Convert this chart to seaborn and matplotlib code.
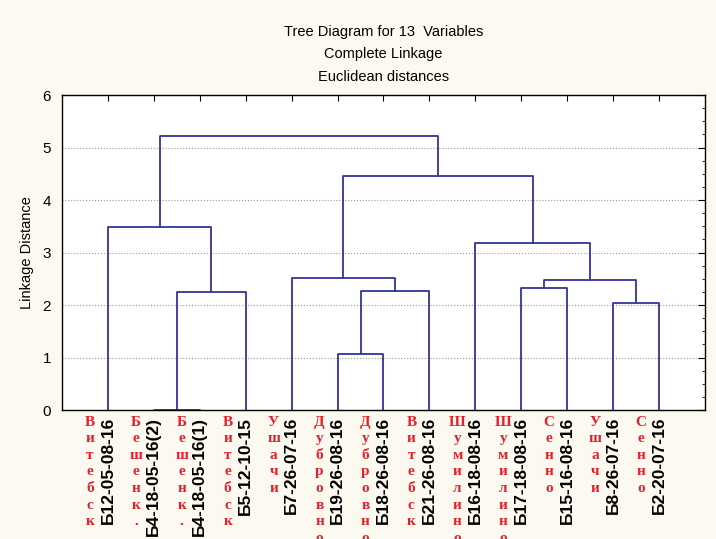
import pandas as pd
import seaborn as sns
import matplotlib.pyplot as plt
from matplotlib.ticker import MultipleLocator

sns.set_style('white')
plt.rcParams['font.family'] = ['Liberation Sans', 'DejaVu Sans']
plt.rcParams.update({'text.color': 'black', 'axes.labelcolor': 'black',
                     'xtick.color': 'black', 'ytick.color': 'black'})

# leaves in the order they are drawn
labels = ["Б12-05-08-16", "Б4-18-05-16(2)", "Б4-18-05-16(1)", "Б5-12-10-15",
          "Б7-26-07-16", "Б19-26-08-16", "Б18-26-08-16", "Б21-26-08-16",
          "Б16-18-08-16", "Б17-18-08-16", "Б15-16-08-16", "Б8-26-07-16",
          "Б2-20-07-16"]
cities = ["Витебск", "Бешенк.", "Бешенк.", "Витебск", "Ушачи", "Дубровно",
          "Дубровно", "Витебск", "Шумилино", "Шумилино", "Сенно", "Ушачи",
          "Сенно"]

# merges: ids < 13 are leaves, id 13+k is the k-th merge
left_ids = [1, 13, 0, 5, 16, 4, 9, 11, 19, 8, 18, 15]
right_ids = [2, 3, 14, 6, 7, 17, 10, 12, 20, 21, 22, 23]
heights = [0.0, 2.25, 3.49, 1.06, 2.27, 2.52, 2.32, 2.03, 2.48, 3.19, 4.46, 5.22]

n = len(labels)
xpos = {i: i + 1 for i in range(n)}
ypos = {i: 0.0 for i in range(n)}
rows = []
for k, (a, b, h) in enumerate(zip(left_ids, right_ids, heights)):
    pts = [(xpos[a], ypos[a]), (xpos[a], h), (xpos[b], h), (xpos[b], ypos[b])]
    for px, py in pts:
        rows.append({"link": k, "x": px, "y": py})
    xpos[n + k] = (xpos[a] + xpos[b]) / 2
    ypos[n + k] = h
seg = pd.DataFrame(rows)

fig = plt.figure(figsize=(7.16, 5.39), dpi=100, facecolor='#FCFAF0')
ax = fig.add_axes([0.0866, 0.2393, 0.898, 0.5844])
ax.set_facecolor('white')

sns.lineplot(data=seg, x="x", y="y", units="link", estimator=None, sort=False,
             color='#33339C', lw=1.3, ax=ax)

ax.set_xlim(0, n + 1)
ax.set_ylim(0, 6)
ax.set_xticks(range(1, n + 1))
ax.set_xticklabels(labels, rotation=90, fontweight='bold', fontsize=12.5)
ax.yaxis.set_major_locator(MultipleLocator(1))
ax.yaxis.set_minor_locator(MultipleLocator(0.25))
ax.tick_params(axis='x', direction='in', top=True, length=4, pad=5)
ax.tick_params(axis='y', which='major', direction='in', right=True, length=5,
               labelsize=11, pad=8)
ax.tick_params(axis='y', which='minor', direction='in', right=True, length=2.5)
ax.yaxis.grid(True, linestyle=':', color='#999999', lw=0.8)
for s in ax.spines.values():
    s.set_color('black')
    s.set_linewidth(1.0)

ax.set_xlabel('')
ax.set_ylabel('Linkage Distance', fontsize=10.5, labelpad=6)
ax.set_title("Tree Diagram for 13  Variables\nComplete Linkage\nEuclidean distances",
             fontsize=10.5, linespacing=1.8, pad=10)

for i, city in enumerate(cities):
    ax.annotate('\n'.join(city), xy=(i + 1, 0), xycoords=('data', 'axes fraction'),
                xytext=(-13, -4), textcoords='offset points', ha='center', va='top',
                color='#E3202B', family='Liberation Serif', fontweight='bold',
                fontsize=11, linespacing=1.36, annotation_clip=False)

fig.savefig('out.png', dpi=100, facecolor=fig.get_facecolor())
